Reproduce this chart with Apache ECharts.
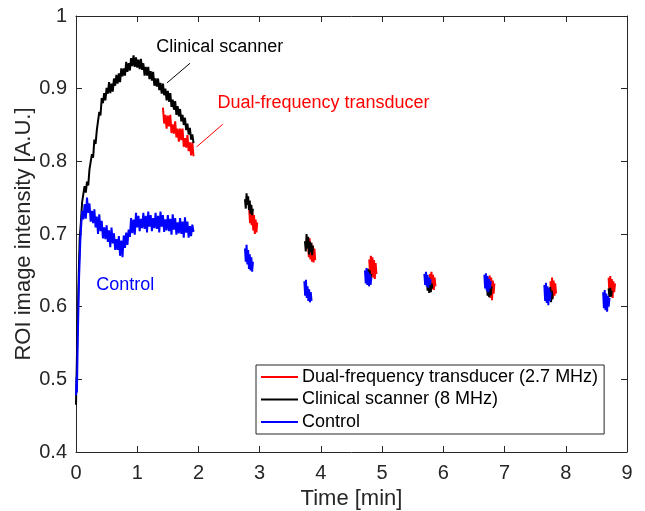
<!DOCTYPE html>
<html>
<head>
<meta charset="utf-8">
<script src="https://cdn.jsdelivr.net/npm/echarts@6/dist/echarts.min.js"></script>
<style>
html,body{margin:0;padding:0;background:#fff;}
#chart{width:645px;height:511px;}
</style>
</head>
<body>
<div id="chart"></div>
<script>
// ---------- DATA (time [min], ROI intensity [A.U.]) ----------
const seriesNames = ['Dual-frequency transducer (2.7 MHz)', 'Clinical scanner (8 MHz)', 'Control'];
const xTicks = [0, 1, 2, 3, 4, 5, 6, 7, 8, 9];
const yTicks = [0.4, 0.5, 0.6, 0.7, 0.8, 0.9, 1];

const clinicalRamp = [
[0.00,0.465],[0.02,0.552],[0.04,0.628],[0.06,0.693],[0.08,0.716],[0.10,0.744],[0.12,0.744],[0.14,0.766],[0.16,0.757],[0.18,0.772],
[0.20,0.767],[0.22,0.789],[0.24,0.788],[0.26,0.810],[0.28,0.805],[0.30,0.830],[0.32,0.824],[0.34,0.843],[0.36,0.842],[0.38,0.868],
[0.40,0.863],[0.42,0.887],[0.44,0.880],[0.46,0.894],[0.48,0.884],[0.50,0.901],[0.52,0.893],[0.54,0.909],[0.56,0.894],[0.58,0.907],
[0.60,0.896],[0.62,0.914],[0.64,0.904],[0.66,0.919],[0.68,0.907],[0.70,0.921],[0.72,0.909],[0.74,0.928],[0.76,0.917],[0.78,0.928],
[0.80,0.918],[0.82,0.937],[0.84,0.923],[0.86,0.935],[0.88,0.925],[0.90,0.942],[0.92,0.931],[0.94,0.946],[0.96,0.930],[0.98,0.943],
[1.00,0.929],[1.02,0.940],[1.04,0.927],[1.06,0.941],[1.08,0.926],[1.10,0.935],[1.12,0.918],[1.14,0.930],[1.16,0.918],[1.18,0.930],
[1.20,0.913],[1.22,0.924],[1.24,0.911],[1.26,0.923],[1.28,0.904],[1.30,0.914],[1.32,0.903],[1.34,0.914],[1.36,0.898],[1.38,0.908],
[1.40,0.893],[1.42,0.907],[1.44,0.891],[1.46,0.900],[1.48,0.884],[1.50,0.897],[1.52,0.882],[1.54,0.894],[1.56,0.875],[1.58,0.885],
[1.60,0.871],[1.62,0.883],[1.64,0.864],[1.66,0.876],[1.68,0.862],[1.70,0.872],[1.72,0.855],[1.74,0.864],[1.76,0.850],[1.78,0.860],
[1.80,0.843],[1.82,0.852],[1.84,0.837],[1.86,0.846],[1.88,0.830],[1.90,0.837],[1.92,0.825]
];
const clinicalBlobs = [
[[2.760,0.748],[2.773,0.735],[2.786,0.756],[2.799,0.740],[2.812,0.752],[2.825,0.733],[2.838,0.746],[2.851,0.728],[2.864,0.740],[2.877,0.726],[2.890,0.735]],
[[3.740,0.690],[3.753,0.676],[3.766,0.700],[3.779,0.680],[3.792,0.696],[3.805,0.672],[3.818,0.690],[3.831,0.675],[3.844,0.688],[3.857,0.671],[3.870,0.684]],
[[4.770,0.652],[4.783,0.638],[4.796,0.650],[4.809,0.637],[4.822,0.645]],
[[5.730,0.640],[5.743,0.622],[5.756,0.638],[5.769,0.619],[5.782,0.635],[5.795,0.620],[5.808,0.632],[5.821,0.625]],
[[6.710,0.635],[6.723,0.615],[6.736,0.637],[6.749,0.613],[6.762,0.630],[6.775,0.616],[6.788,0.628]],
[[7.720,0.625],[7.733,0.608],[7.746,0.627],[7.759,0.606],[7.772,0.622],[7.785,0.610]],
[[8.700,0.625],[8.713,0.613],[8.726,0.626],[8.739,0.614],[8.752,0.622]]
];

const dualRamp = [
[1.42,0.874],[1.44,0.852],[1.46,0.864],[1.48,0.845],[1.50,0.863],[1.52,0.848],[1.54,0.864],[1.56,0.839],[1.58,0.851],[1.60,0.838],
[1.62,0.855],[1.64,0.833],[1.66,0.845],[1.68,0.827],[1.70,0.845],[1.72,0.829],[1.74,0.845],[1.76,0.820],[1.78,0.832],[1.80,0.819],
[1.82,0.836],[1.84,0.814],[1.86,0.826],[1.88,0.808],[1.90,0.826],[1.92,0.807]
];
const dualBlobs = [
[[2.830,0.733],[2.843,0.715],[2.856,0.736],[2.869,0.712],[2.882,0.730],[2.895,0.705],[2.908,0.726],[2.921,0.700],[2.934,0.720],[2.947,0.702],[2.960,0.716]],
[[3.790,0.690],[3.803,0.668],[3.816,0.694],[3.829,0.665],[3.842,0.688],[3.855,0.662],[3.868,0.684],[3.881,0.661],[3.894,0.680],[3.907,0.664]],
[[4.790,0.665],[4.803,0.645],[4.816,0.670],[4.829,0.642],[4.842,0.668],[4.855,0.640],[4.868,0.664],[4.881,0.638],[4.894,0.660],[4.907,0.645]],
[[5.780,0.645],[5.793,0.626],[5.806,0.648],[5.819,0.624],[5.832,0.644],[5.845,0.623],[5.858,0.640],[5.871,0.628]],
[[6.730,0.640],[6.743,0.615],[6.756,0.643],[6.769,0.612],[6.782,0.640],[6.795,0.609],[6.808,0.636],[6.821,0.618],[6.834,0.632]],
[[7.750,0.635],[7.763,0.614],[7.776,0.640],[7.789,0.612],[7.802,0.636],[7.815,0.615],[7.828,0.632],[7.841,0.618]],
[[8.700,0.640],[8.713,0.618],[8.726,0.642],[8.739,0.615],[8.752,0.638],[8.765,0.612],[8.778,0.635],[8.791,0.620],[8.804,0.632]]
];

const controlRamp = [
[0.00,0.478],[0.01,0.503],[0.015,0.482],[0.02,0.510],[0.03,0.560],[0.04,0.600],[0.05,0.640],[0.06,0.665],[0.07,0.690],[0.08,0.705],
[0.10,0.732],[0.12,0.720],[0.14,0.741],[0.16,0.721],[0.18,0.750],[0.20,0.729],[0.22,0.742],[0.24,0.717],[0.26,0.732],[0.28,0.715],
[0.30,0.734],[0.32,0.709],[0.34,0.724],[0.36,0.700],[0.38,0.727],[0.40,0.704],[0.42,0.718],[0.44,0.694],[0.46,0.709],[0.48,0.693],
[0.50,0.712],[0.52,0.689],[0.54,0.705],[0.56,0.682],[0.58,0.709],[0.60,0.687],[0.62,0.701],[0.64,0.678],[0.66,0.693],[0.68,0.678],
[0.70,0.697],[0.72,0.670],[0.74,0.691],[0.76,0.668],[0.78,0.698],[0.80,0.681],[0.82,0.702],[0.84,0.685],[0.86,0.706],[0.88,0.696],
[0.90,0.722],[0.92,0.701],[0.94,0.720],[0.96,0.699],[0.98,0.729],[1.00,0.709],[1.02,0.725],[1.04,0.704],[1.06,0.721],[1.08,0.708],
[1.10,0.729],[1.12,0.707],[1.14,0.725],[1.16,0.702],[1.18,0.731],[1.20,0.710],[1.22,0.726],[1.24,0.704],[1.26,0.722],[1.28,0.708],
[1.30,0.729],[1.32,0.707],[1.34,0.725],[1.36,0.702],[1.38,0.731],[1.40,0.710],[1.42,0.726],[1.44,0.703],[1.46,0.720],[1.48,0.705],
[1.50,0.726],[1.52,0.704],[1.54,0.721],[1.56,0.699],[1.58,0.727],[1.60,0.706],[1.62,0.722],[1.64,0.699],[1.66,0.716],[1.68,0.701],
[1.70,0.722],[1.72,0.700],[1.74,0.717],[1.76,0.695],[1.78,0.723],[1.80,0.702],[1.82,0.717],[1.84,0.695],[1.86,0.711],[1.88,0.697],
[1.90,0.713],[1.92,0.703]
];
const controlBlobs = [
[[2.760,0.680],[2.773,0.662],[2.786,0.685],[2.799,0.658],[2.812,0.678],[2.825,0.652],[2.838,0.672],[2.851,0.650],[2.864,0.668],[2.877,0.648],[2.890,0.662]],
[[3.730,0.635],[3.743,0.615],[3.756,0.637],[3.769,0.612],[3.782,0.628],[3.795,0.608],[3.808,0.624],[3.821,0.606],[3.834,0.620],[3.847,0.608]],
[[4.720,0.650],[4.733,0.632],[4.746,0.653],[4.759,0.630],[4.772,0.648],[4.785,0.628],[4.798,0.645],[4.811,0.630],[4.824,0.640]],
[[5.690,0.645],[5.703,0.630],[5.716,0.648],[5.729,0.628],[5.742,0.644],[5.755,0.626],[5.768,0.640],[5.781,0.630],[5.794,0.638]],
[[6.670,0.644],[6.683,0.625],[6.696,0.646],[6.709,0.622],[6.722,0.642],[6.735,0.620],[6.748,0.638],[6.761,0.625],[6.774,0.635]],
[[7.650,0.630],[7.663,0.608],[7.676,0.633],[7.689,0.605],[7.702,0.628],[7.715,0.602],[7.728,0.625],[7.741,0.608],[7.754,0.620]],
[[8.610,0.620],[8.623,0.598],[8.636,0.623],[8.649,0.595],[8.662,0.618],[8.675,0.593],[8.688,0.615],[8.701,0.600],[8.714,0.612]]
];

// annotation texts (anchored in data coordinates)
const annotations = [
  {text: 'Clinical scanner', color: '#000000', at: [1.31, 0.957], line: [[1.487, 0.908], [1.863, 0.935]]},
  {text: 'Dual-frequency transducer', color: '#FF0000', at: [2.31, 0.880], line: [[1.972, 0.820], [2.397, 0.851]]},
  {text: 'Control', color: '#0000FF', at: [0.33, 0.630], line: null}
];

// ---------- BUILD ----------
function joinSegments(segs) {
  const out = [];
  segs.forEach((s, i) => {
    if (i > 0) out.push([s[0][0], '-']);
    s.forEach(p => out.push(p));
  });
  return out;
}

const FONT = '"Liberation Sans", Arial, Helvetica, sans-serif';
const AX = '#262626';
const chart = echarts.init(document.getElementById('chart'), null, {renderer: 'canvas'});

const mkSeries = (name, color, segs) => ({
  name, type: 'line', data: joinSegments(segs), color,
  showSymbol: false, symbol: 'none', connectNulls: false,
  lineStyle: {color, width: 2}, animation: false, silent: true
});

const xCommon = {
  type: 'value', min: xTicks[0], max: xTicks[xTicks.length - 1], interval: 1,
  splitLine: {show: false},
  axisLine: {show: true, onZero: false, lineStyle: {color: AX, width: 1}},
  axisTick: {show: true, inside: true, length: 6, lineStyle: {color: AX}}
};
const yCommon = {
  type: 'value', min: yTicks[0], max: yTicks[yTicks.length - 1], interval: 0.1,
  splitLine: {show: false},
  axisLine: {show: true, onZero: false, lineStyle: {color: AX, width: 1}},
  axisTick: {show: true, inside: true, length: 6, lineStyle: {color: AX}}
};

chart.setOption({
  animation: false,
  backgroundColor: '#ffffff',
  textStyle: {fontFamily: FONT},
  grid: {left: 76, right: 18, top: 16, bottom: 59, containLabel: false, outerBoundsMode: 'none'},
  xAxis: [
    Object.assign({}, xCommon, {
      position: 'bottom',
      axisLabel: {fontSize: 20, color: AX, margin: 11, fontFamily: FONT},
      name: 'Time [min]', nameLocation: 'middle', nameGap: 36, nameMoveOverlap: false,
      nameTextStyle: {fontSize: 22, color: AX, fontFamily: FONT}
    }),
    Object.assign({}, xCommon, {position: 'top', axisLabel: {show: false}})
  ],
  yAxis: [
    Object.assign({}, yCommon, {
      position: 'left',
      axisLabel: {fontSize: 20, color: AX, margin: 9, fontFamily: FONT,
        formatter: v => String(parseFloat(v.toFixed(1)))},
      name: 'ROI image intensity [A.U.]', nameLocation: 'middle', nameGap: 41, nameMoveOverlap: false,
      nameTextStyle: {fontSize: 22, color: AX, fontFamily: FONT}
    }),
    Object.assign({}, yCommon, {position: 'right', axisLabel: {show: false}})
  ],
  legend: {
    data: seriesNames,
    orient: 'vertical',
    left: 256, top: 365,
    icon: 'rect', itemWidth: 37, itemHeight: 2, itemGap: 2.5,
    padding: [2, 6, 2, 5],
    borderColor: AX, borderWidth: 1, borderRadius: 0,
    backgroundColor: '#ffffff',
    selectedMode: false,
    textStyle: {fontSize: 18, color: '#000', fontFamily: FONT, lineHeight: 20, padding: [0, 0, 0, -1]}
  },
  series: [
    mkSeries(seriesNames[0], '#FF0000', [dualRamp].concat(dualBlobs)),
    mkSeries(seriesNames[1], '#000000', [clinicalRamp].concat(clinicalBlobs)),
    mkSeries(seriesNames[2], '#0000FF', [controlRamp].concat(controlBlobs))
  ]
});

// annotations positioned through the chart's own coordinate conversion
const graphics = [];
annotations.forEach(a => {
  const p = chart.convertToPixel({gridIndex: 0}, a.at);
  graphics.push({
    type: 'text', x: p[0], y: p[1], silent: true,
    style: {text: a.text, fill: a.color, font: '18px ' + FONT, textAlign: 'left', textVerticalAlign: 'middle'}
  });
  if (a.line) {
    const p1 = chart.convertToPixel({gridIndex: 0}, a.line[0]);
    const p2 = chart.convertToPixel({gridIndex: 0}, a.line[1]);
    graphics.push({
      type: 'line', silent: true,
      shape: {x1: p1[0], y1: p1[1], x2: p2[0], y2: p2[1]},
      style: {stroke: a.color, lineWidth: 1}
    });
  }
});
chart.setOption({graphic: graphics});
</script>
</body>
</html>
